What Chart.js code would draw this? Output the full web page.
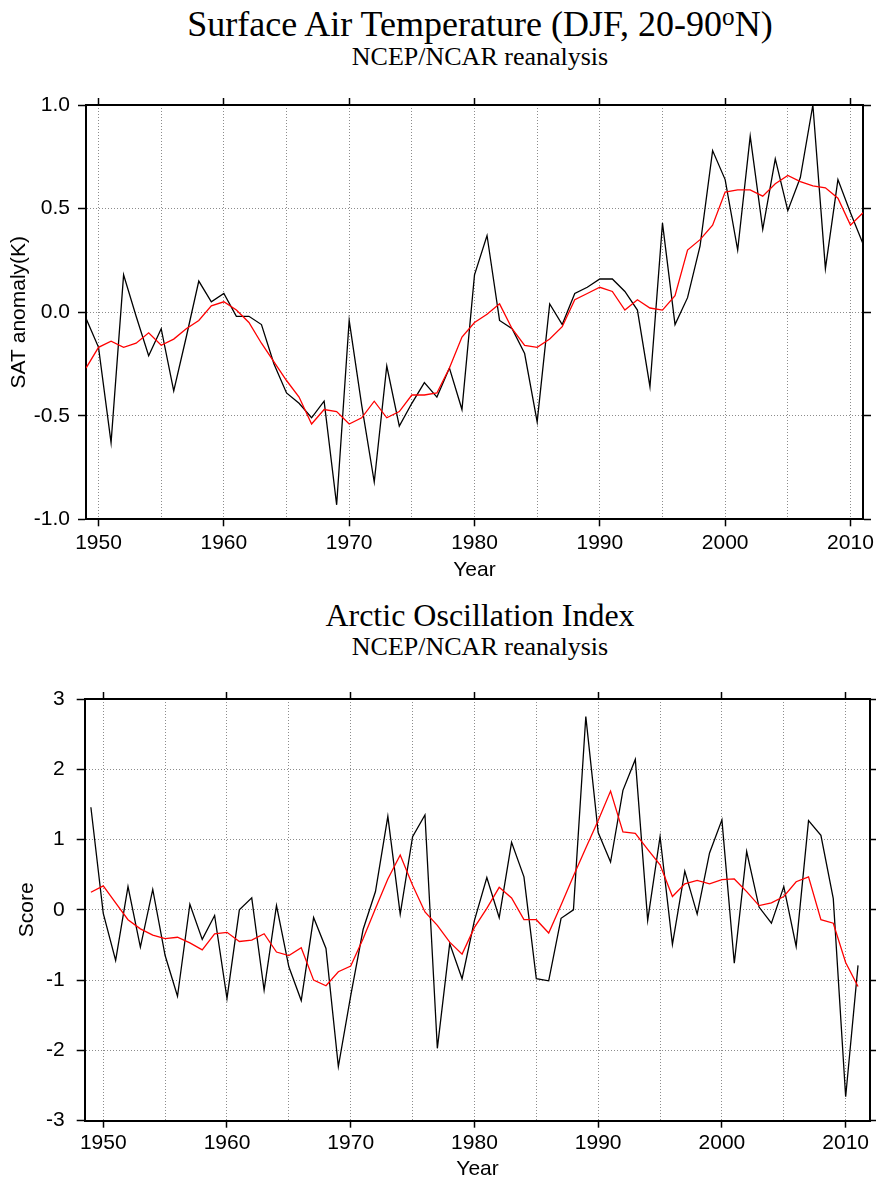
<!DOCTYPE html>
<html>
<head>
<meta charset="utf-8">
<script src="https://cdn.jsdelivr.net/npm/chart.js@4.4.1/dist/chart.umd.min.js"></script>
<style>
  body { margin: 0; background: #fff; width: 876px; height: 1182px; position: relative; overflow: hidden; }
  .title { position: absolute; left: 0; width: 960px; text-align: center; font-family: "Liberation Serif", "Times New Roman", serif; color: #000; white-space: nowrap; }
  .main { font-size: 36px; line-height: 36px; }
  .main2 { font-size: 32px; line-height: 32px; }
  .sub { font-size: 26px; line-height: 26px; }
  .title sup { font-size: 70%; vertical-align: 0.45em; line-height: 0; }
  canvas { position: absolute; left: 0; }
</style>
</head>
<body>
<div class="title main" style="top:6px">Surface Air Temperature (DJF, 20-90<sup>o</sup>N)</div>
<div class="title sub" style="top:44px">NCEP/NCAR reanalysis</div>
<canvas id="satChart" width="876" height="505" style="top:80px"></canvas>
<div class="title main2" style="top:599px">Arctic Oscillation Index</div>
<div class="title sub" style="top:634px">NCEP/NCAR reanalysis</div>
<canvas id="aoChart" width="876" height="512" style="top:670px"></canvas>
<script>
// DJF means, 1949-2011
const years = [1949, 1950, 1951, 1952, 1953, 1954, 1955, 1956, 1957, 1958,
  1959, 1960, 1961, 1962, 1963, 1964, 1965, 1966, 1967, 1968,
  1969, 1970, 1971, 1972, 1973, 1974, 1975, 1976, 1977, 1978,
  1979, 1980, 1981, 1982, 1983, 1984, 1985, 1986, 1987, 1988,
  1989, 1990, 1991, 1992, 1993, 1994, 1995, 1996, 1997, 1998,
  1999, 2000, 2001, 2002, 2003, 2004, 2005, 2006, 2007, 2008,
  2009, 2010, 2011];
const majorYears = [1950, 1960, 1970, 1980, 1990, 2000, 2010];

// SAT anomaly (K), black = yearly, red = running mean
const satAnomaly = [-0.03, -0.17, -0.63, 0.18, -0.02, -0.21, -0.08, -0.38, -0.12, 0.15,
  0.05, 0.09, -0.02, -0.02, -0.06, -0.25, -0.39, -0.44, -0.51, -0.43,
  -0.93, -0.04, -0.45, -0.82, -0.26, -0.55, -0.44, -0.34, -0.41, -0.27,
  -0.47, 0.18, 0.37, -0.04, -0.08, -0.20, -0.53, 0.04, -0.06, 0.09,
  0.12, 0.16, 0.16, 0.10, 0.01, -0.36, 0.43, -0.06, 0.07, 0.32,
  0.78, 0.64, 0.30, 0.85, 0.40, 0.74, 0.49, 0.65, 1.00, 0.21,
  0.64, 0.48, 0.33];
const satRunning = [-0.27, -0.17, -0.14, -0.17, -0.15, -0.10, -0.16, -0.13, -0.08, -0.04,
  0.03, 0.05, 0.01, -0.05, -0.15, -0.24, -0.33, -0.41, -0.54, -0.47,
  -0.48, -0.54, -0.51, -0.43, -0.51, -0.48, -0.40, -0.40, -0.39, -0.27,
  -0.12, -0.05, -0.01, 0.04, -0.08, -0.16, -0.17, -0.13, -0.07, 0.06,
  0.09, 0.12, 0.10, 0.01, 0.06, 0.02, 0.01, 0.08, 0.30, 0.35,
  0.42, 0.58, 0.59, 0.59, 0.56, 0.62, 0.66, 0.63, 0.61, 0.60,
  0.55, 0.42, 0.48];

// AO index score
const aoIndex = [1.46, -0.05, -0.72, 0.33, -0.53, 0.29, -0.65, -1.23, 0.08, -0.42,
  -0.08, -1.26, 0.00, 0.17, -1.14, 0.06, -0.81, -1.29, -0.11, -0.55,
  -2.23, -1.22, -0.28, 0.26, 1.33, -0.06, 1.04, 1.35, -1.97, -0.48,
  -0.98, -0.15, 0.46, -0.11, 0.96, 0.47, -0.98, -1.01, -0.12, 0.00,
  2.75, 1.10, 0.68, 1.70, 2.14, -0.15, 1.04, -0.49, 0.55, -0.06,
  0.81, 1.28, -0.76, 0.83, 0.04, -0.19, 0.33, -0.52, 1.27, 1.06,
  0.16, -2.66, -0.79];
const aoRunning = [0.25, 0.34, 0.10, -0.14, -0.27, -0.36, -0.41, -0.39, -0.47, -0.57,
  -0.34, -0.32, -0.45, -0.43, -0.34, -0.60, -0.65, -0.54, -1.00, -1.08,
  -0.88, -0.80, -0.41, 0.02, 0.44, 0.78, 0.35, -0.03, -0.22, -0.46,
  -0.63, -0.25, 0.02, 0.32, 0.17, -0.14, -0.14, -0.33, 0.07, 0.48,
  0.88, 1.27, 1.69, 1.11, 1.09, 0.86, 0.64, 0.19, 0.37, 0.42,
  0.37, 0.43, 0.44, 0.26, 0.06, 0.10, 0.19, 0.40, 0.47, -0.14,
  -0.19, -0.75, -1.09];

const tickFont = { family: 'Liberation Sans, Arial, sans-serif', size: 21 };
const gridGray = '#8c8c8c';

function points(vals) {
  return years.map((yr, i) => ({ x: yr, y: vals[i] }));
}

function drawPanel(id, black, red, box) {
  const ctx = document.getElementById(id).getContext('2d');
  const h = ctx.canvas.height;
  const yearTick = (c) => (c.tick && majorYears.includes(c.tick.value)) ? '#000' : 'rgba(0,0,0,0)';

  return new Chart(ctx, {
    type: 'line',
    data: {
      datasets: [{
        data: points(red),
        borderColor: '#ff0000',
        borderWidth: 1.3,
        pointRadius: 0,
        tension: 0
      }, {
        data: points(black),
        borderColor: '#000000',
        borderWidth: 1.3,
        pointRadius: 0,
        tension: 0
      }]
    },
    options: {
      responsive: false,
      animation: false,
      devicePixelRatio: 1,
      layout: { padding: 0 },
      plugins: { legend: { display: false }, tooltip: { enabled: false } },
      scales: {
        x: {
          type: 'linear',
          position: 'bottom',
          min: box.xMin,
          max: box.xMax,
          afterFit: (s) => { s.height = h - box.bottom; s.paddingLeft = 0; s.paddingRight = 0; },
          ticks: {
            stepSize: 5,
            includeBounds: false,
            autoSkip: false,
            maxRotation: 0,
            padding: box.xPad,
            color: '#000',
            font: tickFont,
            callback: (v) => majorYears.includes(v) ? String(v) : ''
          },
          grid: { color: gridGray, lineWidth: 1, tickLength: 7, tickWidth: 1.5, tickColor: yearTick, tickBorderDash: [] },
          border: { color: '#000', width: 2, dash: [1, 2] },
          title: { display: true, text: 'Year', color: '#000', font: tickFont, padding: { top: 0, bottom: box.yearPad } }
        },
        xTop: {
          type: 'linear',
          position: 'top',
          min: box.xMin,
          max: box.xMax,
          afterFit: (s) => { s.height = box.top; s.paddingLeft = 0; s.paddingRight = 0; },
          ticks: { stepSize: 5, includeBounds: false, autoSkip: false, maxRotation: 0, callback: () => '' },
          grid: { drawOnChartArea: false, tickLength: 7, tickWidth: 1.5, tickColor: yearTick, tickBorderDash: [] },
          border: { color: '#000', width: 2 }
        },
        y: {
          type: 'linear',
          position: 'left',
          min: box.yMin,
          max: box.yMax,
          afterFit: (s) => { s.width = box.left; s.paddingTop = 0; s.paddingBottom = 0; },
          ticks: {
            stepSize: box.yStep,
            padding: box.yLabelPad,
            color: '#000',
            font: tickFont,
            callback: box.yFormat
          },
          grid: { color: gridGray, lineWidth: 1, tickLength: 8, tickWidth: 1.5, tickColor: '#000', tickBorderDash: [] },
          border: { color: '#000', width: 2, dash: [1, 2] },
          title: { display: true, text: box.yTitle, color: '#000', font: tickFont, padding: { top: box.yTitlePad, bottom: 0 } }
        },
        yRight: {
          type: 'linear',
          position: 'right',
          min: box.yMin,
          max: box.yMax,
          afterFit: (s) => { s.width = 876 - box.right; s.paddingTop = 0; s.paddingBottom = 0; },
          ticks: { stepSize: box.yStep, callback: () => '' },
          grid: { drawOnChartArea: false, tickLength: 8, tickWidth: 1.5, tickColor: '#000', tickBorderDash: [] },
          border: { color: '#000', width: 2 }
        }
      }
    }
  });
}

// Surface air temperature panel
drawPanel('satChart', satAnomaly, satRunning, {
  left: 86, right: 863, top: 25, bottom: 439.3,
  xMin: 1949, xMax: 2011, yMin: -1, yMax: 1, yStep: 0.5,
  yFormat: (v) => v.toFixed(1),
  yTitle: 'SAT anomaly(K)',
  xPad: 4, yLabelPad: 8, yearPad: 2, yTitlePad: 7
});

// Arctic Oscillation panel
drawPanel('aoChart', aoIndex, aoRunning, {
  left: 84.7, right: 870.4, top: 29, bottom: 450.7,
  xMin: 1948.5, xMax: 2012, yMin: -3, yMax: 3, yStep: 1,
  yFormat: (v) => String(v),
  yTitle: 'Score',
  xPad: 3, yLabelPad: 12, yearPad: 0, yTitlePad: 15
});
</script>
</body>
</html>
